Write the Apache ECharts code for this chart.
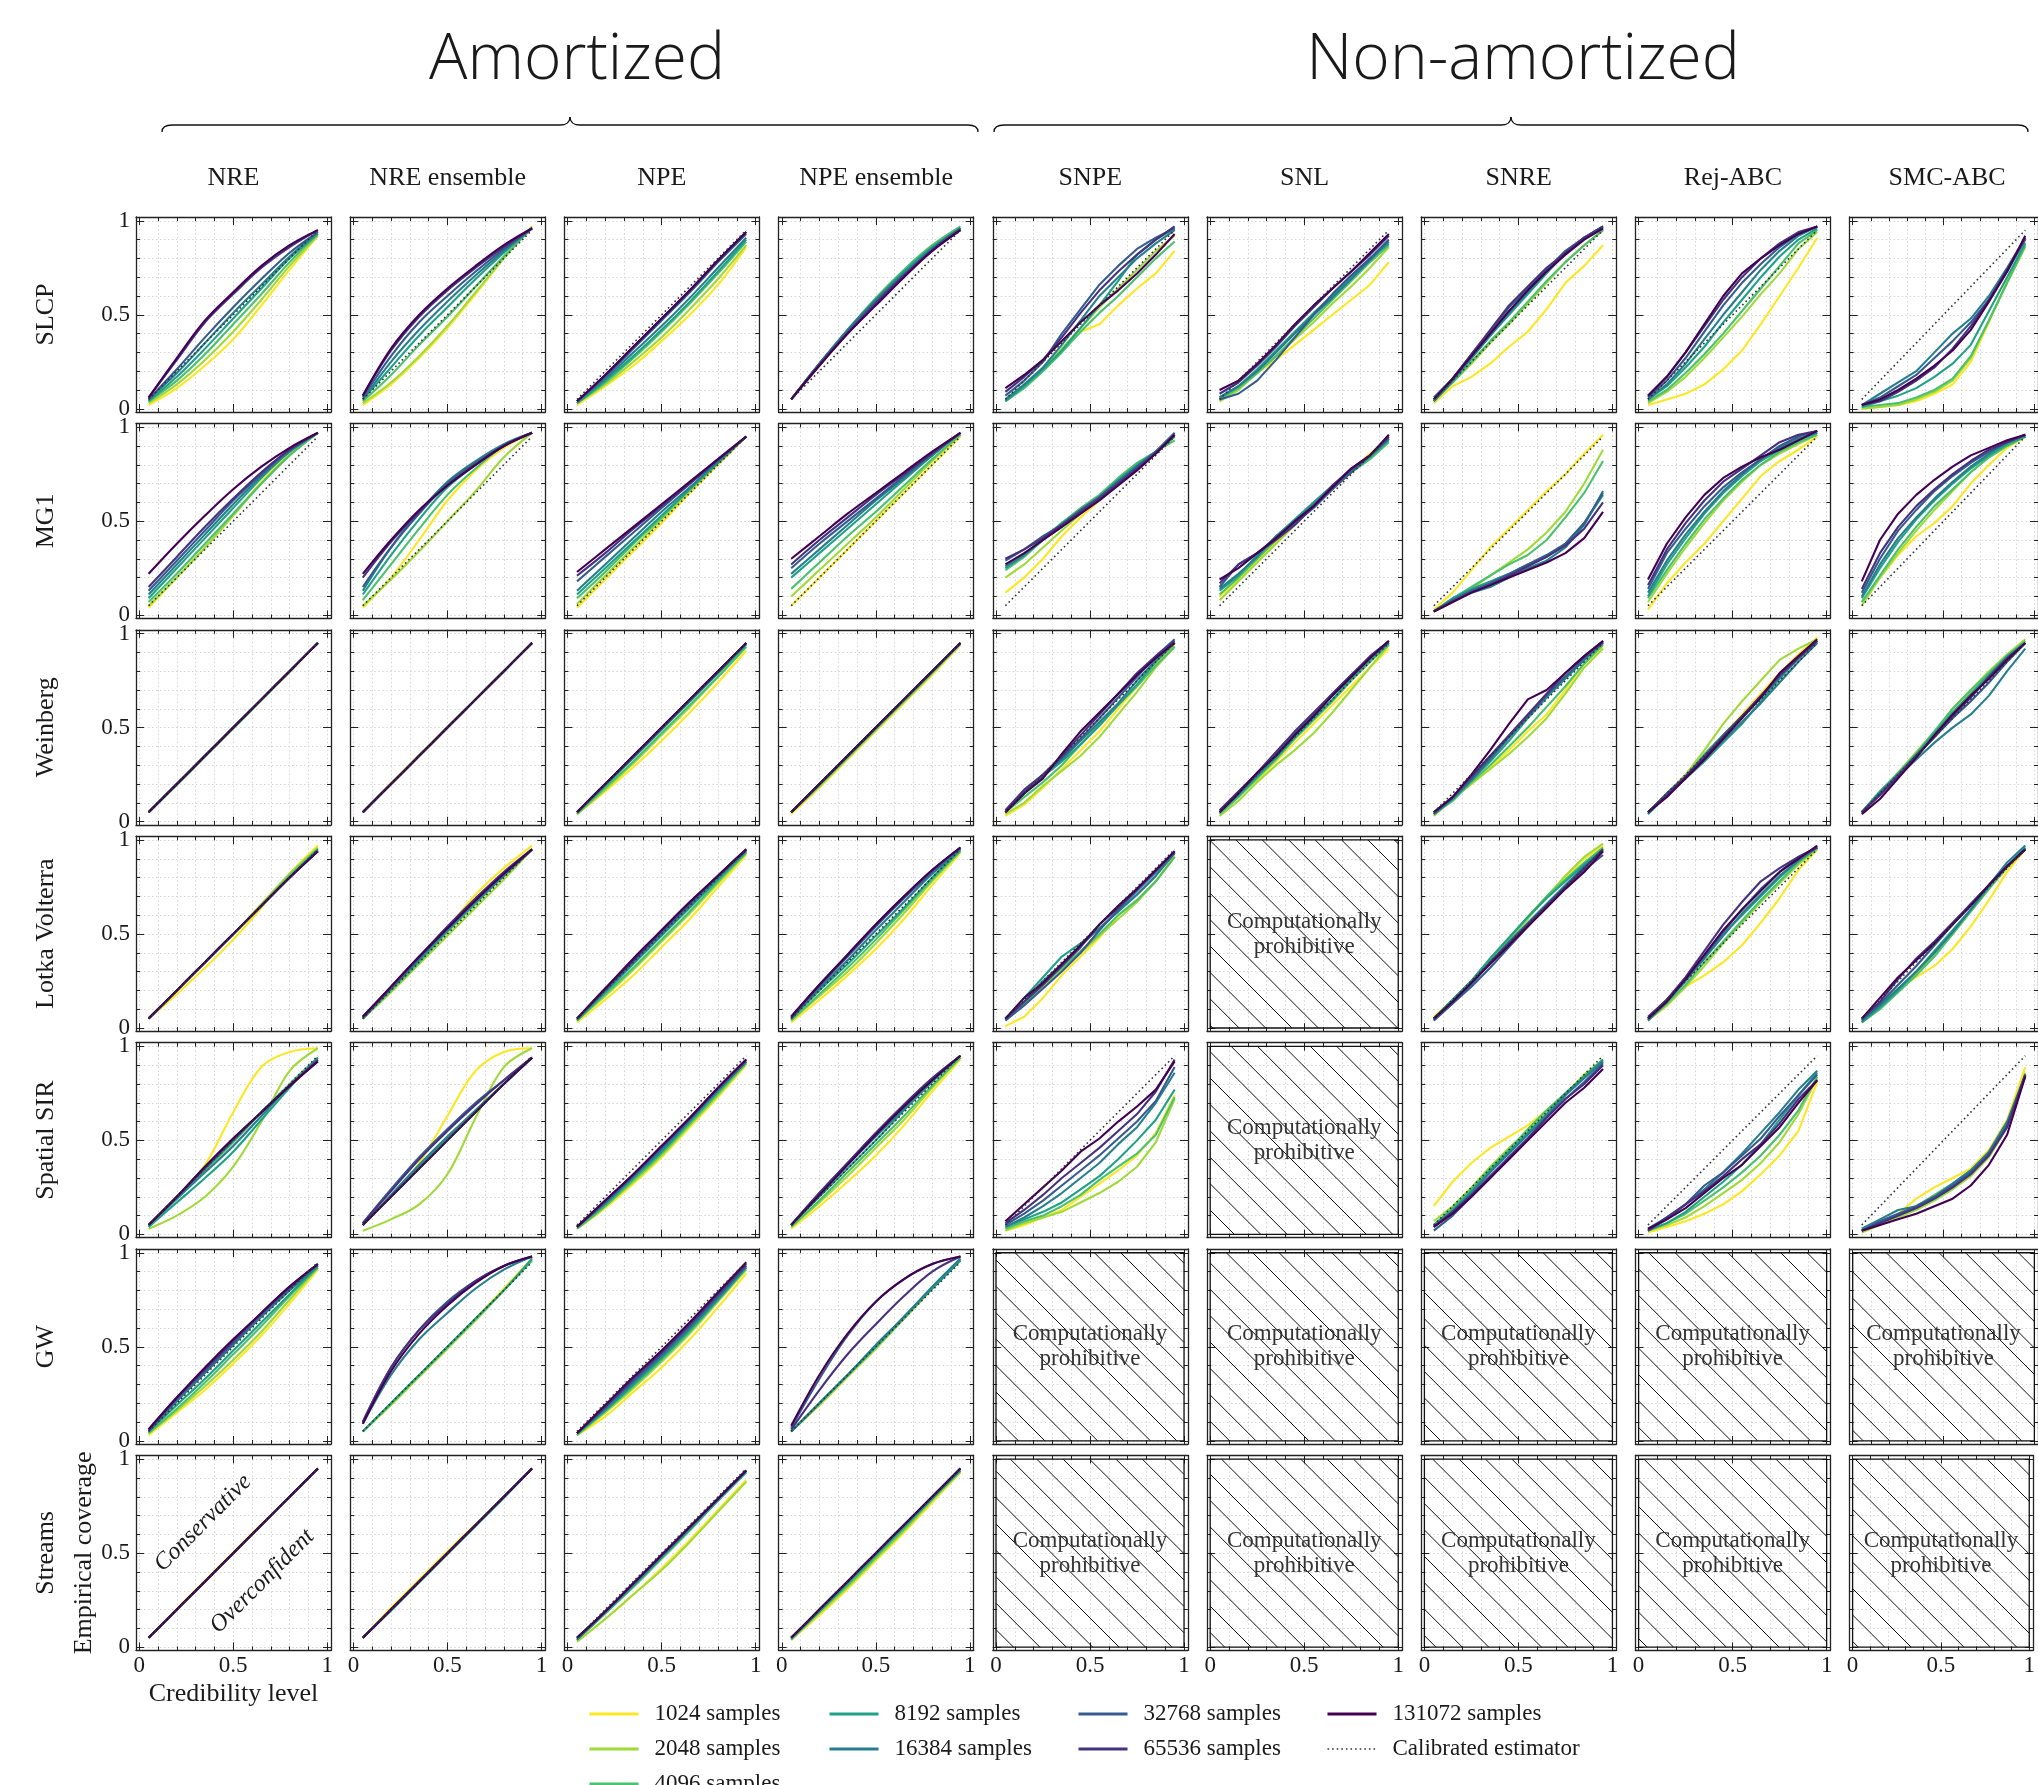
<!DOCTYPE html>
<html>
<head>
<meta charset="utf-8">
<script src="https://cdn.jsdelivr.net/npm/echarts@6/dist/echarts.min.js"></script>
<style>
html,body{margin:0;padding:0;background:#fff}
#chart{width:2038px;height:1785px}
</style>
</head>
<body>
<div id="chart"></div>
<script>
// ---- categories ----
const METHODS = ['NRE', 'NRE ensemble', 'NPE', 'NPE ensemble', 'SNPE', 'SNL', 'SNRE', 'Rej-ABC', 'SMC-ABC'];
const BENCHMARKS = ['SLCP', 'MG1', 'Weinberg', 'Lotka Volterra', 'Spatial SIR', 'GW', 'Streams'];
const SAMPLE_SIZES = ['1024 samples', '2048 samples', '4096 samples', '8192 samples',
  '16384 samples', '32768 samples', '65536 samples', '131072 samples'];
const SAMPLE_COLORS = ['#fde725', '#a0da39', '#4ac16d', '#1fa187', '#277f8e', '#365c8d', '#46327e', '#440154'];
const CALIBRATED_NAME = 'Calibrated estimator';
const CALIBRATED = [0.05, 0.95];

// credibility levels at which coverage is reported
const CRED_SMOOTH = [0.05, 0.2, 0.35, 0.5, 0.65, 0.8, 0.95];
const CRED_STEP = [0.05, 0.15, 0.25, 0.35, 0.45, 0.55, 0.65, 0.75, 0.85, 0.95];

// ticks and tick labels
const TICKS_MINOR = [0, 0.1, 0.2, 0.3, 0.4, 0.5, 0.6, 0.7, 0.8, 0.9, 1];
const TICKS_MAJOR = [0, 0.5, 1];
const TICK_LABELS = [0, 0.5, 1];

// ---- empirical coverage, one row per sample size (1024 ... 131072) ----
// SLCP
const NRE_SLCP = [
  [0.02,0.11,0.23,0.37,0.55,0.74,0.92],[0.03,0.13,0.26,0.41,0.58,0.76,0.92],
  [0.04,0.15,0.29,0.45,0.61,0.78,0.93],[0.04,0.17,0.32,0.48,0.64,0.80,0.93],
  [0.05,0.19,0.35,0.51,0.66,0.81,0.94],[0.05,0.21,0.38,0.54,0.69,0.83,0.94],
  [0.06,0.26,0.46,0.61,0.75,0.86,0.95],[0.06,0.27,0.47,0.62,0.76,0.87,0.95]];
const NRE_ENS_SLCP = [
  [0.02,0.13,0.27,0.43,0.61,0.80,0.97],[0.03,0.14,0.28,0.44,0.62,0.80,0.97],
  [0.04,0.18,0.34,0.49,0.65,0.81,0.96],[0.05,0.22,0.39,0.54,0.69,0.83,0.96],
  [0.05,0.25,0.42,0.57,0.71,0.84,0.96],[0.06,0.28,0.46,0.60,0.73,0.85,0.96],
  [0.07,0.31,0.49,0.63,0.75,0.86,0.96],[0.07,0.32,0.50,0.64,0.76,0.87,0.96]];
const NPE_SLCP = [
  [0.02,0.12,0.23,0.36,0.50,0.66,0.86],[0.03,0.13,0.25,0.38,0.53,0.69,0.87],
  [0.03,0.14,0.27,0.41,0.56,0.72,0.89],[0.03,0.15,0.28,0.42,0.57,0.73,0.90],
  [0.04,0.16,0.30,0.44,0.59,0.75,0.91],[0.04,0.17,0.32,0.47,0.62,0.78,0.93],
  [0.04,0.18,0.33,0.48,0.63,0.79,0.94],[0.04,0.18,0.33,0.48,0.63,0.79,0.94]];
const NPE_ENS_SLCP = [
  [0.05,0.23,0.40,0.56,0.71,0.85,0.96],[0.05,0.23,0.41,0.57,0.72,0.86,0.96],
  [0.05,0.24,0.42,0.59,0.74,0.87,0.97],[0.05,0.24,0.42,0.58,0.73,0.86,0.96],
  [0.05,0.24,0.42,0.58,0.72,0.85,0.96],[0.05,0.24,0.41,0.57,0.71,0.85,0.96],
  [0.05,0.23,0.40,0.56,0.71,0.84,0.95],[0.05,0.23,0.40,0.55,0.70,0.84,0.95]];
const SNPE_SLCP = [
  [0.04,0.12,0.21,0.32,0.41,0.45,0.55,0.64,0.72,0.84],[0.05,0.12,0.21,0.32,0.43,0.54,0.64,0.74,0.84,0.92],
  [0.04,0.11,0.20,0.30,0.41,0.51,0.60,0.70,0.80,0.89],[0.04,0.12,0.21,0.31,0.43,0.55,0.68,0.82,0.90,0.96],
  [0.05,0.13,0.22,0.34,0.47,0.60,0.70,0.80,0.88,0.95],[0.07,0.15,0.25,0.40,0.53,0.66,0.76,0.85,0.91,0.96],
  [0.09,0.17,0.26,0.38,0.51,0.63,0.73,0.82,0.90,0.97],[0.11,0.18,0.26,0.36,0.46,0.55,0.63,0.72,0.82,0.93]];
const SNL_SLCP = [
  [0.05,0.11,0.19,0.26,0.34,0.42,0.50,0.58,0.66,0.78],[0.04,0.10,0.19,0.28,0.37,0.46,0.56,0.65,0.75,0.86],
  [0.05,0.11,0.19,0.28,0.38,0.48,0.58,0.68,0.78,0.87],[0.06,0.12,0.21,0.31,0.41,0.51,0.60,0.70,0.80,0.88],
  [0.06,0.12,0.20,0.30,0.40,0.50,0.59,0.69,0.79,0.89],[0.05,0.08,0.15,0.26,0.38,0.50,0.61,0.71,0.80,0.90],
  [0.08,0.14,0.23,0.33,0.44,0.54,0.64,0.73,0.82,0.92],[0.10,0.15,0.24,0.34,0.45,0.55,0.64,0.73,0.83,0.93]];
const SNRE_SLCP = [
  [0.03,0.12,0.17,0.24,0.33,0.41,0.53,0.67,0.76,0.87],[0.04,0.14,0.24,0.35,0.45,0.56,0.67,0.78,0.87,0.95],
  [0.04,0.14,0.25,0.36,0.46,0.57,0.68,0.78,0.87,0.95],[0.04,0.15,0.27,0.39,0.50,0.61,0.72,0.83,0.91,0.97],
  [0.04,0.15,0.27,0.39,0.51,0.62,0.73,0.83,0.91,0.97],[0.06,0.16,0.29,0.41,0.54,0.64,0.74,0.84,0.91,0.96],
  [0.05,0.16,0.29,0.42,0.55,0.65,0.75,0.83,0.91,0.97],[0.05,0.16,0.28,0.40,0.52,0.63,0.73,0.82,0.90,0.96]];
const REJ_SLCP = [
  [0.02,0.05,0.08,0.13,0.21,0.31,0.45,0.60,0.75,0.91],[0.03,0.09,0.17,0.27,0.38,0.49,0.61,0.72,0.85,0.94],
  [0.04,0.10,0.19,0.29,0.40,0.52,0.64,0.76,0.88,0.95],[0.05,0.12,0.22,0.33,0.46,0.58,0.70,0.81,0.90,0.96],
  [0.05,0.13,0.24,0.37,0.50,0.62,0.74,0.84,0.92,0.97],[0.06,0.15,0.27,0.41,0.55,0.67,0.77,0.86,0.93,0.97],
  [0.07,0.17,0.30,0.44,0.58,0.70,0.80,0.88,0.94,0.97],[0.07,0.17,0.30,0.45,0.60,0.72,0.80,0.87,0.93,0.97]];
const SMC_SLCP = [
  [0.00,0.01,0.02,0.04,0.08,0.13,0.25,0.46,0.68,0.89],[0.00,0.01,0.02,0.05,0.09,0.15,0.27,0.47,0.67,0.86],
  [0.01,0.02,0.03,0.06,0.10,0.16,0.28,0.47,0.67,0.87],[0.01,0.04,0.07,0.11,0.17,0.24,0.34,0.52,0.70,0.88],
  [0.02,0.08,0.14,0.20,0.30,0.40,0.48,0.60,0.75,0.91],[0.02,0.06,0.12,0.18,0.27,0.36,0.46,0.58,0.73,0.90],
  [0.02,0.04,0.09,0.15,0.22,0.32,0.44,0.58,0.74,0.91],[0.02,0.05,0.10,0.16,0.23,0.31,0.42,0.57,0.73,0.92]];

// MG1
const NRE_MG1 = [
  [0.04,0.20,0.36,0.53,0.71,0.86,0.97],[0.05,0.20,0.36,0.53,0.70,0.85,0.97],
  [0.07,0.22,0.38,0.54,0.70,0.85,0.97],[0.09,0.25,0.41,0.57,0.73,0.87,0.97],
  [0.11,0.27,0.43,0.59,0.74,0.87,0.97],[0.13,0.29,0.45,0.61,0.75,0.88,0.97],
  [0.15,0.31,0.47,0.62,0.76,0.88,0.97],[0.22,0.38,0.53,0.67,0.79,0.89,0.97]];
const NRE_ENS_MG1 = [
  [0.04,0.20,0.40,0.61,0.77,0.89,0.97],[0.05,0.19,0.34,0.50,0.66,0.84,0.97],
  [0.08,0.27,0.46,0.64,0.78,0.90,0.97],[0.11,0.32,0.51,0.68,0.80,0.90,0.97],
  [0.13,0.36,0.55,0.71,0.82,0.91,0.97],[0.15,0.36,0.54,0.70,0.81,0.90,0.97],
  [0.20,0.39,0.55,0.69,0.80,0.90,0.97],[0.22,0.40,0.56,0.69,0.80,0.90,0.97]];
const NPE_MG1 = [
  [0.04,0.19,0.34,0.49,0.65,0.80,0.95],[0.06,0.21,0.36,0.51,0.66,0.81,0.95],
  [0.09,0.23,0.38,0.52,0.67,0.81,0.95],[0.11,0.25,0.39,0.53,0.67,0.81,0.95],
  [0.13,0.27,0.41,0.55,0.68,0.82,0.95],[0.18,0.31,0.44,0.57,0.70,0.82,0.95],
  [0.21,0.33,0.46,0.58,0.70,0.83,0.95],[0.23,0.35,0.47,0.59,0.71,0.83,0.95]];
const NPE_ENS_MG1 = [
  [0.05,0.20,0.35,0.50,0.65,0.80,0.95],[0.10,0.24,0.38,0.52,0.67,0.82,0.96],
  [0.14,0.28,0.42,0.55,0.69,0.83,0.96],[0.20,0.33,0.46,0.59,0.72,0.85,0.97],
  [0.22,0.35,0.48,0.61,0.73,0.85,0.97],[0.25,0.38,0.50,0.62,0.74,0.86,0.97],
  [0.27,0.40,0.52,0.64,0.75,0.86,0.97],[0.30,0.42,0.54,0.65,0.76,0.87,0.97]];
const SNPE_MG1 = [
  [0.12,0.20,0.30,0.42,0.52,0.61,0.70,0.78,0.86,0.95],[0.20,0.27,0.36,0.45,0.54,0.62,0.70,0.79,0.87,0.95],
  [0.24,0.31,0.40,0.49,0.57,0.64,0.73,0.81,0.87,0.93],[0.25,0.32,0.41,0.49,0.56,0.63,0.72,0.80,0.87,0.95],
  [0.26,0.32,0.40,0.47,0.55,0.62,0.70,0.78,0.87,0.96],[0.29,0.35,0.42,0.48,0.56,0.63,0.71,0.79,0.87,0.97],
  [0.30,0.35,0.41,0.48,0.55,0.62,0.70,0.78,0.86,0.96],[0.27,0.33,0.40,0.47,0.54,0.61,0.69,0.77,0.86,0.96]];
const SNL_MG1 = [
  [0.10,0.19,0.29,0.39,0.49,0.58,0.67,0.77,0.86,0.94],[0.08,0.18,0.28,0.38,0.48,0.58,0.67,0.76,0.85,0.95],
  [0.11,0.20,0.30,0.40,0.49,0.59,0.68,0.76,0.83,0.92],[0.13,0.21,0.32,0.42,0.51,0.60,0.69,0.76,0.84,0.93],
  [0.14,0.22,0.31,0.42,0.50,0.59,0.68,0.77,0.85,0.94],[0.15,0.27,0.33,0.41,0.49,0.57,0.67,0.76,0.85,0.94],
  [0.17,0.27,0.33,0.40,0.48,0.58,0.69,0.78,0.85,0.95],[0.19,0.25,0.33,0.41,0.50,0.58,0.68,0.78,0.85,0.96]];
const SNRE_MG1 = [
  [0.03,0.12,0.24,0.36,0.46,0.56,0.66,0.75,0.86,0.96],[0.02,0.08,0.14,0.21,0.28,0.35,0.44,0.55,0.70,0.88],
  [0.02,0.09,0.15,0.21,0.27,0.32,0.40,0.52,0.65,0.82],[0.02,0.09,0.14,0.18,0.22,0.27,0.31,0.38,0.49,0.64],
  [0.02,0.08,0.12,0.15,0.20,0.25,0.29,0.36,0.48,0.66],[0.02,0.08,0.13,0.17,0.22,0.27,0.32,0.38,0.49,0.65],
  [0.02,0.07,0.12,0.16,0.21,0.26,0.31,0.37,0.46,0.60],[0.02,0.07,0.12,0.16,0.20,0.24,0.28,0.33,0.41,0.55]];
const REJ_MG1 = [
  [0.03,0.17,0.28,0.38,0.50,0.62,0.74,0.82,0.88,0.95],[0.07,0.22,0.36,0.49,0.61,0.71,0.80,0.86,0.91,0.96],
  [0.09,0.24,0.38,0.51,0.62,0.72,0.80,0.87,0.92,0.96],[0.10,0.27,0.41,0.54,0.65,0.74,0.82,0.88,0.93,0.97],
  [0.12,0.29,0.43,0.55,0.66,0.75,0.83,0.89,0.94,0.97],[0.14,0.33,0.46,0.58,0.68,0.76,0.83,0.90,0.95,0.98],
  [0.16,0.35,0.49,0.61,0.71,0.78,0.85,0.92,0.96,0.98],[0.19,0.38,0.52,0.64,0.73,0.79,0.84,0.88,0.93,0.98]];
const SMC_MG1 = [
  [0.07,0.20,0.32,0.42,0.49,0.58,0.70,0.80,0.89,0.95],[0.05,0.20,0.33,0.45,0.56,0.66,0.76,0.84,0.90,0.95],
  [0.07,0.21,0.35,0.47,0.58,0.67,0.76,0.84,0.90,0.95],[0.09,0.25,0.39,0.51,0.61,0.70,0.78,0.85,0.91,0.95],
  [0.10,0.27,0.41,0.52,0.62,0.71,0.79,0.86,0.92,0.96],[0.12,0.30,0.45,0.56,0.66,0.74,0.81,0.87,0.92,0.96],
  [0.14,0.33,0.47,0.58,0.67,0.75,0.82,0.88,0.92,0.96],[0.18,0.40,0.54,0.64,0.72,0.79,0.85,0.89,0.93,0.96]];

// Weinberg
const NRE_WEIN = [
  [0.05,0.20,0.35,0.50,0.65,0.80,0.95],[0.05,0.195,0.345,0.495,0.645,0.795,0.95],
  [0.05,0.195,0.345,0.495,0.645,0.80,0.95],[0.05,0.20,0.35,0.50,0.65,0.80,0.95],
  [0.05,0.20,0.35,0.50,0.65,0.80,0.95],[0.05,0.20,0.35,0.50,0.65,0.80,0.95],
  [0.05,0.20,0.35,0.50,0.65,0.80,0.95],[0.05,0.20,0.35,0.50,0.65,0.80,0.95]];
const NRE_ENS_WEIN = [
  [0.05,0.205,0.355,0.505,0.65,0.80,0.95],[0.05,0.20,0.35,0.50,0.65,0.80,0.95],
  [0.05,0.20,0.35,0.50,0.65,0.80,0.95],[0.05,0.20,0.35,0.50,0.65,0.80,0.95],
  [0.05,0.20,0.35,0.50,0.65,0.80,0.95],[0.05,0.20,0.35,0.50,0.65,0.80,0.95],
  [0.05,0.20,0.35,0.50,0.65,0.80,0.95],[0.05,0.20,0.35,0.50,0.65,0.80,0.95]];
const NPE_WEIN = [
  [0.04,0.16,0.29,0.43,0.58,0.74,0.91],[0.04,0.17,0.31,0.46,0.61,0.77,0.93],
  [0.04,0.18,0.32,0.47,0.62,0.77,0.93],[0.05,0.19,0.34,0.49,0.64,0.79,0.94],
  [0.05,0.20,0.34,0.49,0.64,0.79,0.95],[0.05,0.20,0.35,0.50,0.65,0.80,0.95],
  [0.05,0.20,0.35,0.50,0.65,0.80,0.95],[0.05,0.20,0.35,0.50,0.65,0.80,0.95]];
const NPE_ENS_WEIN = [
  [0.04,0.18,0.33,0.48,0.63,0.78,0.94],[0.05,0.19,0.34,0.49,0.64,0.79,0.94],
  [0.05,0.19,0.34,0.49,0.64,0.79,0.95],[0.05,0.20,0.35,0.50,0.65,0.80,0.95],
  [0.05,0.20,0.35,0.50,0.65,0.80,0.95],[0.05,0.20,0.35,0.50,0.65,0.80,0.95],
  [0.05,0.20,0.35,0.50,0.65,0.80,0.95],[0.05,0.20,0.35,0.50,0.65,0.80,0.95]];
const SNPE_WEIN = [
  [0.03,0.09,0.18,0.28,0.38,0.48,0.60,0.72,0.84,0.94],[0.04,0.10,0.19,0.27,0.35,0.45,0.57,0.69,0.82,0.93],
  [0.05,0.13,0.21,0.30,0.41,0.52,0.62,0.72,0.83,0.93],[0.05,0.15,0.24,0.32,0.41,0.51,0.62,0.73,0.85,0.95],
  [0.05,0.15,0.25,0.33,0.43,0.53,0.63,0.75,0.86,0.95],[0.05,0.16,0.24,0.34,0.44,0.55,0.66,0.77,0.88,0.97],
  [0.06,0.17,0.25,0.35,0.46,0.57,0.68,0.79,0.88,0.96],[0.05,0.15,0.23,0.36,0.48,0.58,0.68,0.78,0.87,0.95]];
const SNL_WEIN = [
  [0.05,0.14,0.22,0.32,0.42,0.52,0.62,0.72,0.82,0.92],[0.03,0.11,0.21,0.30,0.38,0.47,0.58,0.70,0.82,0.94],
  [0.04,0.13,0.23,0.33,0.44,0.54,0.64,0.75,0.85,0.94],[0.05,0.14,0.24,0.34,0.45,0.55,0.65,0.76,0.86,0.95],
  [0.05,0.15,0.25,0.35,0.46,0.57,0.68,0.78,0.87,0.95],[0.05,0.15,0.25,0.36,0.47,0.57,0.67,0.77,0.87,0.96],
  [0.06,0.16,0.26,0.37,0.48,0.58,0.68,0.78,0.88,0.96],[0.05,0.15,0.26,0.35,0.46,0.56,0.67,0.77,0.87,0.96]];
const SNRE_WEIN = [
  [0.04,0.12,0.20,0.29,0.38,0.48,0.57,0.70,0.84,0.93],[0.03,0.12,0.20,0.28,0.36,0.45,0.55,0.68,0.82,0.92],
  [0.04,0.11,0.21,0.30,0.40,0.50,0.61,0.72,0.84,0.94],[0.04,0.12,0.22,0.32,0.43,0.55,0.66,0.76,0.86,0.95],
  [0.04,0.12,0.22,0.33,0.45,0.56,0.67,0.77,0.86,0.96],[0.04,0.13,0.23,0.34,0.45,0.56,0.67,0.77,0.87,0.95],
  [0.05,0.13,0.24,0.35,0.46,0.57,0.68,0.79,0.88,0.96],[0.05,0.13,0.25,0.38,0.52,0.65,0.70,0.79,0.88,0.96]];
const REJ_WEIN = [
  [0.05,0.14,0.24,0.35,0.46,0.57,0.68,0.79,0.89,0.98],[0.05,0.15,0.25,0.38,0.52,0.64,0.75,0.86,0.92,0.97],
  [0.05,0.15,0.24,0.36,0.46,0.56,0.66,0.77,0.87,0.96],[0.04,0.14,0.23,0.32,0.42,0.52,0.64,0.76,0.87,0.96],
  [0.04,0.14,0.23,0.33,0.43,0.53,0.63,0.74,0.85,0.95],[0.05,0.15,0.24,0.35,0.46,0.56,0.66,0.77,0.87,0.96],
  [0.05,0.14,0.24,0.34,0.45,0.56,0.67,0.78,0.87,0.96],[0.05,0.13,0.23,0.33,0.44,0.55,0.66,0.79,0.88,0.97]];
const SMC_WEIN = [
  [0.05,0.14,0.25,0.36,0.47,0.58,0.69,0.79,0.88,0.96],[0.05,0.15,0.26,0.37,0.48,0.60,0.70,0.80,0.89,0.97],
  [0.05,0.16,0.26,0.36,0.48,0.60,0.70,0.79,0.88,0.96],[0.05,0.16,0.25,0.36,0.47,0.58,0.68,0.78,0.88,0.95],
  [0.05,0.15,0.24,0.33,0.42,0.50,0.57,0.67,0.80,0.92],[0.05,0.15,0.25,0.35,0.45,0.55,0.64,0.74,0.85,0.95],
  [0.05,0.14,0.24,0.35,0.45,0.56,0.66,0.77,0.87,0.95],[0.04,0.12,0.23,0.34,0.46,0.57,0.67,0.76,0.86,0.95]];

// Lotka Volterra
const NRE_LV = [
  [0.05,0.18,0.32,0.47,0.64,0.82,0.97],[0.05,0.20,0.35,0.50,0.66,0.82,0.96],
  [0.05,0.20,0.35,0.50,0.65,0.81,0.95],[0.05,0.20,0.35,0.50,0.65,0.80,0.95],
  [0.05,0.20,0.35,0.50,0.65,0.80,0.94],[0.05,0.20,0.35,0.50,0.65,0.80,0.94],
  [0.05,0.20,0.35,0.50,0.65,0.80,0.94],[0.05,0.20,0.35,0.50,0.65,0.80,0.94]];
const NRE_ENS_LV = [
  [0.05,0.20,0.36,0.53,0.71,0.85,0.97],[0.05,0.19,0.34,0.49,0.64,0.79,0.95],
  [0.05,0.20,0.35,0.51,0.66,0.81,0.95],[0.05,0.21,0.36,0.52,0.67,0.81,0.95],
  [0.05,0.21,0.37,0.52,0.67,0.81,0.95],[0.06,0.21,0.37,0.53,0.68,0.82,0.95],
  [0.06,0.22,0.38,0.54,0.69,0.83,0.95],[0.06,0.22,0.38,0.53,0.68,0.82,0.95]];
const NPE_LV = [
  [0.03,0.15,0.28,0.43,0.58,0.75,0.92],[0.04,0.17,0.31,0.46,0.61,0.77,0.93],
  [0.04,0.18,0.32,0.47,0.62,0.78,0.93],[0.04,0.19,0.34,0.49,0.64,0.79,0.94],
  [0.05,0.20,0.35,0.50,0.65,0.80,0.94],[0.05,0.20,0.36,0.51,0.66,0.81,0.95],
  [0.05,0.21,0.36,0.52,0.67,0.81,0.95],[0.05,0.21,0.37,0.52,0.67,0.81,0.95]];
const NPE_ENS_LV = [
  [0.03,0.15,0.28,0.42,0.58,0.76,0.93],[0.04,0.17,0.30,0.45,0.61,0.78,0.94],
  [0.04,0.18,0.32,0.47,0.63,0.79,0.94],[0.05,0.20,0.34,0.49,0.64,0.80,0.95],
  [0.05,0.21,0.36,0.52,0.67,0.82,0.95],[0.05,0.22,0.38,0.54,0.69,0.83,0.96],
  [0.06,0.23,0.39,0.55,0.70,0.84,0.96],[0.06,0.23,0.39,0.55,0.70,0.84,0.96]];
const SNPE_LV = [
  [0.01,0.06,0.16,0.28,0.38,0.48,0.60,0.68,0.78,0.92],[0.04,0.13,0.22,0.31,0.40,0.49,0.58,0.67,0.78,0.91],
  [0.04,0.13,0.23,0.32,0.41,0.50,0.60,0.68,0.78,0.91],[0.05,0.16,0.27,0.38,0.45,0.53,0.62,0.71,0.81,0.93],
  [0.05,0.14,0.25,0.34,0.44,0.53,0.62,0.71,0.81,0.93],[0.04,0.12,0.21,0.30,0.40,0.52,0.63,0.73,0.83,0.93],
  [0.05,0.14,0.23,0.33,0.43,0.55,0.64,0.74,0.84,0.94],[0.05,0.16,0.24,0.34,0.44,0.55,0.65,0.74,0.84,0.94]];
const SNRE_LV = [
  [0.06,0.15,0.25,0.35,0.47,0.59,0.70,0.80,0.90,0.97],[0.05,0.15,0.25,0.36,0.47,0.58,0.70,0.81,0.91,0.98],
  [0.05,0.15,0.25,0.37,0.48,0.59,0.70,0.79,0.88,0.96],[0.05,0.15,0.25,0.37,0.48,0.59,0.69,0.78,0.87,0.95],
  [0.04,0.13,0.23,0.35,0.46,0.56,0.66,0.76,0.86,0.94],[0.04,0.13,0.22,0.32,0.43,0.54,0.65,0.75,0.84,0.92],
  [0.05,0.14,0.24,0.35,0.45,0.55,0.65,0.75,0.85,0.95],[0.05,0.14,0.24,0.34,0.44,0.54,0.64,0.74,0.83,0.94]];
const REJ_LV = [
  [0.04,0.12,0.22,0.28,0.35,0.44,0.56,0.69,0.84,0.95],[0.04,0.12,0.22,0.33,0.45,0.56,0.67,0.77,0.87,0.95],
  [0.04,0.13,0.23,0.35,0.46,0.57,0.68,0.78,0.88,0.96],[0.05,0.15,0.26,0.37,0.50,0.60,0.70,0.80,0.89,0.96],
  [0.04,0.14,0.25,0.37,0.49,0.61,0.71,0.81,0.89,0.96],[0.05,0.15,0.26,0.38,0.51,0.63,0.74,0.83,0.91,0.96],
  [0.06,0.15,0.27,0.41,0.55,0.67,0.78,0.85,0.91,0.96],[0.05,0.14,0.26,0.39,0.52,0.63,0.73,0.83,0.90,0.97]];
const SMC_LV = [
  [0.04,0.12,0.21,0.27,0.33,0.42,0.54,0.68,0.83,0.95],[0.03,0.11,0.20,0.29,0.39,0.50,0.62,0.74,0.85,0.95],
  [0.03,0.10,0.19,0.28,0.38,0.50,0.62,0.74,0.86,0.96],[0.03,0.11,0.20,0.30,0.41,0.52,0.63,0.75,0.86,0.96],
  [0.04,0.12,0.21,0.30,0.40,0.51,0.63,0.76,0.88,0.97],[0.04,0.13,0.23,0.33,0.44,0.55,0.66,0.76,0.86,0.95],
  [0.05,0.14,0.26,0.37,0.46,0.56,0.66,0.76,0.86,0.95],[0.05,0.16,0.27,0.36,0.45,0.55,0.65,0.76,0.86,0.95]];

// Spatial SIR
const NRE_SSIR = [
  [0.05,0.20,0.37,0.65,0.89,0.97,0.99],[0.03,0.10,0.20,0.36,0.60,0.87,0.99],
  [0.04,0.19,0.34,0.49,0.65,0.80,0.94],[0.04,0.17,0.30,0.44,0.61,0.78,0.94],
  [0.05,0.19,0.33,0.47,0.63,0.79,0.93],[0.05,0.20,0.35,0.50,0.65,0.79,0.93],
  [0.05,0.20,0.36,0.51,0.65,0.79,0.92],[0.05,0.20,0.36,0.51,0.65,0.79,0.92]];
const NRE_ENS_SSIR = [
  [0.05,0.20,0.38,0.63,0.87,0.97,0.99],[0.02,0.08,0.16,0.32,0.62,0.89,0.99],
  [0.05,0.20,0.35,0.50,0.65,0.80,0.94],[0.05,0.20,0.36,0.51,0.66,0.80,0.94],
  [0.05,0.21,0.37,0.52,0.66,0.80,0.94],[0.06,0.24,0.41,0.56,0.70,0.82,0.94],
  [0.06,0.23,0.40,0.55,0.69,0.82,0.94],[0.05,0.20,0.35,0.50,0.65,0.80,0.94]];
const NPE_SSIR = [
  [0.03,0.14,0.27,0.41,0.57,0.73,0.90],[0.03,0.15,0.28,0.42,0.58,0.74,0.91],
  [0.03,0.15,0.29,0.43,0.59,0.75,0.91],[0.04,0.16,0.30,0.44,0.60,0.76,0.92],
  [0.04,0.17,0.31,0.45,0.61,0.77,0.92],[0.04,0.17,0.31,0.46,0.61,0.77,0.92],
  [0.04,0.18,0.32,0.47,0.62,0.78,0.93],[0.04,0.18,0.32,0.47,0.62,0.78,0.93]];
const NPE_ENS_SSIR = [
  [0.03,0.15,0.28,0.42,0.58,0.76,0.93],[0.04,0.17,0.31,0.46,0.61,0.78,0.94],
  [0.04,0.18,0.33,0.48,0.63,0.79,0.94],[0.05,0.20,0.35,0.50,0.66,0.81,0.95],
  [0.05,0.21,0.37,0.52,0.67,0.82,0.95],[0.05,0.22,0.38,0.54,0.69,0.83,0.95],
  [0.05,0.22,0.38,0.54,0.69,0.83,0.95],[0.05,0.21,0.37,0.53,0.68,0.82,0.95]];
const SNPE_SSIR = [
  [0.02,0.05,0.09,0.13,0.20,0.27,0.34,0.42,0.54,0.74],[0.02,0.06,0.09,0.12,0.17,0.22,0.28,0.36,0.49,0.72],
  [0.03,0.07,0.10,0.15,0.21,0.29,0.36,0.43,0.53,0.73],[0.04,0.08,0.12,0.17,0.24,0.31,0.40,0.50,0.61,0.77],
  [0.04,0.09,0.15,0.22,0.30,0.38,0.48,0.57,0.70,0.86],[0.05,0.11,0.18,0.26,0.34,0.42,0.51,0.60,0.71,0.89],
  [0.06,0.13,0.21,0.30,0.38,0.46,0.55,0.64,0.76,0.93],[0.07,0.16,0.25,0.34,0.44,0.51,0.60,0.68,0.77,0.92]];
const SNRE_SSIR = [
  [0.15,0.28,0.38,0.46,0.52,0.58,0.66,0.75,0.85,0.91],[0.07,0.15,0.25,0.36,0.46,0.55,0.64,0.74,0.85,0.93],
  [0.05,0.14,0.24,0.35,0.45,0.56,0.66,0.75,0.84,0.92],[0.05,0.13,0.23,0.34,0.44,0.54,0.64,0.75,0.84,0.93],
  [0.04,0.12,0.22,0.33,0.43,0.53,0.63,0.74,0.83,0.92],[0.02,0.10,0.20,0.30,0.41,0.51,0.62,0.72,0.81,0.91],
  [0.04,0.12,0.21,0.31,0.41,0.51,0.62,0.72,0.80,0.90],[0.04,0.11,0.20,0.30,0.40,0.50,0.60,0.70,0.78,0.88]];
const REJ_SSIR = [
  [0.01,0.04,0.07,0.11,0.16,0.23,0.32,0.42,0.55,0.81],[0.02,0.05,0.09,0.15,0.22,0.29,0.38,0.49,0.64,0.83],
  [0.02,0.06,0.11,0.18,0.25,0.33,0.42,0.53,0.66,0.84],[0.02,0.06,0.12,0.20,0.28,0.37,0.48,0.61,0.74,0.86],
  [0.03,0.09,0.16,0.24,0.33,0.43,0.54,0.65,0.77,0.87],[0.02,0.08,0.16,0.26,0.33,0.42,0.51,0.63,0.74,0.85],
  [0.02,0.09,0.16,0.23,0.31,0.40,0.48,0.59,0.72,0.82],[0.03,0.08,0.14,0.22,0.30,0.37,0.47,0.57,0.70,0.82]];
const SMC_SSIR = [
  [0.02,0.06,0.11,0.19,0.25,0.30,0.35,0.45,0.61,0.89],[0.01,0.05,0.09,0.13,0.18,0.24,0.31,0.41,0.57,0.86],
  [0.02,0.06,0.10,0.15,0.21,0.27,0.34,0.43,0.57,0.85],[0.02,0.06,0.10,0.14,0.19,0.25,0.33,0.43,0.58,0.85],
  [0.03,0.08,0.13,0.15,0.20,0.27,0.34,0.44,0.60,0.85],[0.02,0.07,0.11,0.15,0.20,0.26,0.33,0.43,0.58,0.84],
  [0.02,0.06,0.10,0.14,0.19,0.25,0.32,0.42,0.57,0.85],[0.02,0.05,0.08,0.11,0.15,0.19,0.26,0.37,0.53,0.84]];

// GW
const NRE_GW = [
  [0.03,0.15,0.27,0.41,0.56,0.73,0.91],[0.04,0.16,0.29,0.43,0.58,0.75,0.92],
  [0.04,0.17,0.31,0.46,0.61,0.77,0.92],[0.05,0.19,0.33,0.48,0.63,0.78,0.93],
  [0.05,0.21,0.36,0.51,0.66,0.80,0.93],[0.05,0.22,0.37,0.52,0.67,0.81,0.94],
  [0.06,0.23,0.38,0.53,0.68,0.82,0.94],[0.06,0.23,0.39,0.54,0.68,0.82,0.94]];
const NRE_ENS_GW = [
  [0.05,0.19,0.34,0.49,0.65,0.81,0.97],[0.05,0.19,0.34,0.49,0.64,0.80,0.96],
  [0.05,0.20,0.35,0.50,0.65,0.80,0.96],[0.05,0.20,0.35,0.50,0.65,0.80,0.97],
  [0.09,0.35,0.54,0.68,0.81,0.91,0.98],[0.10,0.39,0.59,0.74,0.85,0.93,0.98],
  [0.10,0.39,0.59,0.73,0.85,0.93,0.98],[0.09,0.37,0.57,0.72,0.84,0.93,0.98]];
const NPE_GW = [
  [0.03,0.13,0.26,0.39,0.54,0.71,0.89],[0.03,0.15,0.28,0.42,0.57,0.74,0.91],
  [0.03,0.16,0.29,0.43,0.58,0.75,0.92],[0.04,0.16,0.30,0.44,0.59,0.75,0.92],
  [0.04,0.17,0.31,0.45,0.60,0.76,0.93],[0.04,0.18,0.32,0.46,0.61,0.77,0.93],
  [0.04,0.18,0.33,0.47,0.62,0.78,0.94],[0.04,0.19,0.34,0.48,0.63,0.79,0.95]];
const NPE_ENS_GW = [
  [0.05,0.19,0.34,0.50,0.65,0.81,0.97],[0.05,0.19,0.34,0.49,0.65,0.81,0.96],
  [0.05,0.20,0.35,0.50,0.65,0.81,0.96],[0.05,0.20,0.35,0.50,0.66,0.81,0.96],
  [0.05,0.20,0.35,0.51,0.66,0.82,0.97],[0.07,0.33,0.56,0.74,0.86,0.94,0.98],
  [0.06,0.27,0.46,0.62,0.77,0.90,0.98],[0.08,0.35,0.57,0.74,0.86,0.94,0.98]];

// Streams
const NRE_STREAMS = [
  [0.05,0.205,0.355,0.505,0.655,0.80,0.95],[0.05,0.20,0.35,0.50,0.65,0.80,0.95],
  [0.05,0.20,0.35,0.50,0.65,0.80,0.95],[0.05,0.20,0.35,0.50,0.65,0.80,0.95],
  [0.05,0.20,0.35,0.50,0.65,0.80,0.95],[0.05,0.20,0.35,0.50,0.65,0.80,0.95],
  [0.05,0.20,0.35,0.50,0.65,0.80,0.95],[0.05,0.20,0.35,0.50,0.65,0.80,0.95]];
const NRE_ENS_STREAMS = [
  [0.05,0.21,0.36,0.51,0.655,0.80,0.95],[0.05,0.20,0.35,0.50,0.65,0.80,0.95],
  [0.05,0.195,0.345,0.495,0.645,0.795,0.95],[0.05,0.195,0.345,0.495,0.645,0.795,0.95],
  [0.05,0.20,0.35,0.50,0.65,0.80,0.95],[0.05,0.20,0.35,0.50,0.65,0.80,0.95],
  [0.05,0.20,0.35,0.50,0.65,0.80,0.95],[0.05,0.20,0.35,0.50,0.65,0.80,0.95]];
const NPE_STREAMS = [
  [0.03,0.15,0.28,0.42,0.57,0.73,0.89],[0.03,0.15,0.28,0.41,0.56,0.72,0.88],
  [0.04,0.18,0.32,0.47,0.62,0.78,0.93],[0.04,0.18,0.33,0.48,0.63,0.78,0.93],
  [0.04,0.19,0.33,0.48,0.63,0.79,0.94],[0.05,0.19,0.34,0.49,0.64,0.79,0.94],
  [0.05,0.19,0.34,0.49,0.64,0.79,0.94],[0.05,0.19,0.34,0.49,0.64,0.79,0.94]];
const NPE_ENS_STREAMS = [
  [0.04,0.17,0.31,0.46,0.61,0.77,0.93],[0.04,0.18,0.32,0.47,0.62,0.78,0.93],
  [0.04,0.19,0.33,0.48,0.63,0.79,0.94],[0.05,0.19,0.34,0.49,0.64,0.79,0.94],
  [0.05,0.20,0.35,0.50,0.65,0.80,0.95],[0.05,0.20,0.35,0.50,0.65,0.80,0.95],
  [0.05,0.20,0.35,0.50,0.65,0.80,0.95],[0.05,0.20,0.35,0.50,0.65,0.80,0.95]];

// rows follow BENCHMARKS, columns follow METHODS; null = not run (too expensive)
const PANELS = [
  [NRE_SLCP, NRE_ENS_SLCP, NPE_SLCP, NPE_ENS_SLCP, SNPE_SLCP, SNL_SLCP, SNRE_SLCP, REJ_SLCP, SMC_SLCP],
  [NRE_MG1, NRE_ENS_MG1, NPE_MG1, NPE_ENS_MG1, SNPE_MG1, SNL_MG1, SNRE_MG1, REJ_MG1, SMC_MG1],
  [NRE_WEIN, NRE_ENS_WEIN, NPE_WEIN, NPE_ENS_WEIN, SNPE_WEIN, SNL_WEIN, SNRE_WEIN, REJ_WEIN, SMC_WEIN],
  [NRE_LV, NRE_ENS_LV, NPE_LV, NPE_ENS_LV, SNPE_LV, null, SNRE_LV, REJ_LV, SMC_LV],
  [NRE_SSIR, NRE_ENS_SSIR, NPE_SSIR, NPE_ENS_SSIR, SNPE_SSIR, null, SNRE_SSIR, REJ_SSIR, SMC_SSIR],
  [NRE_GW, NRE_ENS_GW, NPE_GW, NPE_ENS_GW, null, null, null, null, null],
  [NRE_STREAMS, NRE_ENS_STREAMS, NPE_STREAMS, NPE_ENS_STREAMS, null, null, null, null, null]
];
const AMORTIZED_COUNT = 4;
const PROHIBITIVE_TEXT = 'Computationally\nprohibitive';
const HATCH_BOX = [0, 0, 1, 1];
const REGION_NOTES = [[0.34, 0.66, 'Conservative'], [0.655, 0.35, 'Overconfident']];

// ---- layout ----
const L = { left: 136, top: 217, dx: 214.2, dy: 206.4, size: 195 };
const AX_MIN = -0.017, AX_MAX = 1.02;
const SERIF = '"Liberation Serif", "Times New Roman", serif';
const INK = '#1a1a1a';

function makeAxis(dim, g, role, withLabels) {
  const major = role === 'majorMain' || role === 'majorMirror';
  const main = role === 'main' || role === 'majorMain';
  const position = dim === 'x' ? (main ? 'bottom' : 'top') : (main ? 'left' : 'right');
  return {
    type: 'value', gridIndex: g, min: AX_MIN, max: AX_MAX, position: position,
    silent: true,
    axisLine: { show: !major, onZero: false, lineStyle: { color: '#222', width: 1.3 } },
    axisTick: { show: true, inside: true, length: major ? 8 : 4,
      customValues: major ? TICKS_MAJOR : TICKS_MINOR, lineStyle: { color: '#222', width: 1 } },
    axisLabel: { show: role === 'main' && withLabels, customValues: TICK_LABELS,
      formatter: v => String(v), fontFamily: SERIF, fontSize: 23, color: INK,
      margin: dim === 'x' ? 4 : 6 },
    splitLine: { show: role === 'main', lineStyle: { color: '#d6d6d6', type: [1.5, 2.5], width: 1 } }
  };
}

function renderHatch(params, api) {
  const p0 = api.coord([api.value(0), api.value(1)]);
  const p1 = api.coord([api.value(2), api.value(3)]);
  const left = p0[0], bottom = p0[1], right = p1[0], top = p1[1];
  const children = [];
  const step = 26.4;
  // "\" hatching: lines y - x = c, clipped to the box
  for (let c = Math.ceil((top - right) / step) * step; c < bottom - left; c += step) {
    const x1 = Math.max(left, top - c), x2 = Math.min(right, bottom - c);
    if (x2 - x1 > 0.5) {
      children.push({ type: 'line', shape: { x1: x1, y1: x1 + c, x2: x2, y2: x2 + c },
        style: { stroke: '#111', lineWidth: 1 } });
    }
  }
  children.push({ type: 'rect', shape: { x: left, y: top, width: right - left, height: bottom - top },
    style: { fill: 'none', stroke: '#111', lineWidth: 1.3 } });
  children.push({ type: 'text', x: (left + right) / 2, y: (top + bottom) / 2,
    style: { text: PROHIBITIVE_TEXT, font: '23px ' + SERIF, fill: '#333', align: 'center',
      verticalAlign: 'middle', lineHeight: 25 } });
  return { type: 'group', children: children };
}

function renderNote(params, api) {
  const p = api.coord([api.value(0), api.value(1)]);
  return { type: 'text', x: p[0], y: p[1], rotation: Math.PI / 4,
    style: { text: REGION_NOTES[params.dataIndex][2], font: 'italic 24px ' + SERIF, fill: INK,
      align: 'center', verticalAlign: 'middle' } };
}

const grids = [], xAxes = [], yAxes = [], series = [];
BENCHMARKS.forEach((bench, r) => {
  METHODS.forEach((method, c) => {
    const g = grids.length;
    grids.push({ left: L.left + c * L.dx, top: L.top + r * L.dy, width: L.size, height: L.size });
    ['main', 'mirror', 'majorMain', 'majorMirror'].forEach(role => {
      xAxes.push(makeAxis('x', g, role, r === BENCHMARKS.length - 1));
      yAxes.push(makeAxis('y', g, role, c === 0));
    });
    const ai = 4 * g;
    const curves = PANELS[r][c];
    if (curves) {
      const amortized = c < AMORTIZED_COUNT;
      const cred = amortized ? CRED_SMOOTH : CRED_STEP;
      curves.forEach((vals, k) => {
        series.push({
          type: 'line', name: SAMPLE_SIZES[k], xAxisIndex: ai, yAxisIndex: ai,
          data: cred.map((x, i) => [x, vals[i]]), smooth: amortized ? 0.35 : false,
          symbol: 'none', silent: true, z: 3,
          lineStyle: { color: SAMPLE_COLORS[k], width: 2.1 }, itemStyle: { color: SAMPLE_COLORS[k] }
        });
      });
      series.push({
        type: 'line', name: CALIBRATED_NAME, xAxisIndex: ai, yAxisIndex: ai,
        data: [[CALIBRATED[0], CALIBRATED[0]], [CALIBRATED[1], CALIBRATED[1]]],
        symbol: 'none', silent: true, z: 4,
        lineStyle: { color: '#333', type: [1.6, 3], width: 1.6 }, itemStyle: { color: '#333' }
      });
      if (r === BENCHMARKS.length - 1 && c === 0) {
        series.push({ type: 'custom', xAxisIndex: ai, yAxisIndex: ai, silent: true, z: 5,
          data: REGION_NOTES.map(n => [n[0], n[1]]), renderItem: renderNote });
      }
    } else {
      series.push({ type: 'custom', xAxisIndex: ai, yAxisIndex: ai, silent: true, z: 3,
        data: [HATCH_BOX], renderItem: renderHatch });
    }
  });
});

// ---- headings, braces, row labels ----
const colCenter = c => L.left + c * L.dx + L.size / 2;
const rowCenter = r => L.top + r * L.dy + L.size / 2;
const graphic = [];
function label(text, x, y, font, rotation) {
  graphic.push({ type: 'text', x: x, y: y, rotation: rotation || 0, silent: true,
    style: { text: text, font: font, fill: INK, align: 'center', verticalAlign: 'middle' } });
}
const BRACE_STYLE = { fill: 'none', stroke: '#111', lineWidth: 1.3 };
function curve(x1, y1, cx1, cy1, cx2, cy2, x2, y2) {
  graphic.push({ type: 'bezierCurve', silent: true,
    shape: { x1: x1, y1: y1, cpx1: cx1, cpy1: cy1, cpx2: cx2, cpy2: cy2, x2: x2, y2: y2 },
    style: BRACE_STYLE });
}
function segment(x1, y1, x2, y2) {
  graphic.push({ type: 'line', silent: true, shape: { x1: x1, y1: y1, x2: x2, y2: y2 }, style: BRACE_STYLE });
}
function brace(x0, x1, xm, y) {
  curve(x0, y + 7, x0, y + 2, x0 + 3, y, x0 + 10, y);
  segment(x0 + 10, y, xm - 10, y);
  curve(xm - 10, y, xm - 4, y, xm, y - 3, xm, y - 8);
  curve(xm, y - 8, xm, y - 3, xm + 4, y, xm + 10, y);
  segment(xm + 10, y, x1 - 10, y);
  curve(x1 - 10, y, x1 - 3, y, x1, y + 2, x1, y + 7);
}
label('Amortized', 577, 61, '300 64px "Open Sans", Lato, sans-serif');
label('Non-amortized', 1523, 61, '300 64px "Open Sans", Lato, sans-serif');
brace(162, 978, 570, 125);
brace(994, 2028, 1511, 125);
METHODS.forEach((m, c) => label(m, colCenter(c), 178, '26px ' + SERIF));
BENCHMARKS.forEach((b, r) => label(b, 46, rowCenter(r), '26px ' + SERIF, Math.PI / 2));
label('Empirical coverage', 84, rowCenter(BENCHMARKS.length - 1), '26px ' + SERIF, Math.PI / 2);
label('Credibility level', colCenter(0), 1694, '26px ' + SERIF);

// ---- legend: four columns, filled top to bottom ----
const LEGEND_COLUMNS = [
  ['1024 samples', '2048 samples', '4096 samples'],
  ['8192 samples', '16384 samples'],
  ['32768 samples', '65536 samples'],
  ['131072 samples', CALIBRATED_NAME]
];
const LEGEND_LEFT = [588, 828, 1077, 1326];
const legend = LEGEND_COLUMNS.map((names, i) => ({
  orient: 'vertical', left: LEGEND_LEFT[i], top: 1702, height: 140,
  itemWidth: 49, itemHeight: 14, itemGap: 11,
  selectedMode: false, padding: 0,
  data: names.map(n => n === CALIBRATED_NAME ? { name: n, lineStyle: { width: 1.6 } } : { name: n }),
  lineStyle: { width: 3 },
  itemStyle: { opacity: 0 },
  textStyle: { fontFamily: SERIF, fontSize: 23, color: INK, lineHeight: 24, padding: [0, 0, 0, 11] }
}));

const chart = echarts.init(document.getElementById('chart'), null, { renderer: 'canvas' });
chart.setOption({
  backgroundColor: '#ffffff',
  animation: false,
  grid: grids,
  xAxis: xAxes,
  yAxis: yAxes,
  legend: legend,
  series: series,
  graphic: graphic
});
</script>
</body>
</html>
